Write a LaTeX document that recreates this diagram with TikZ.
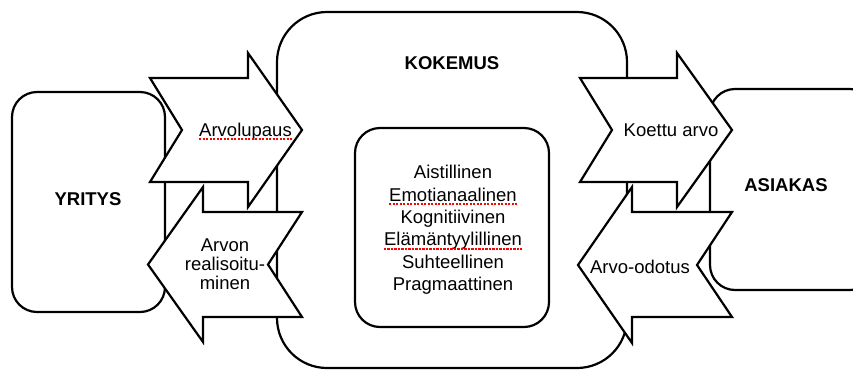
\documentclass[tikz,border=0pt]{standalone}
\usepackage{fontspec}
\setmainfont{Liberation Sans}
\begin{document}
\begin{tikzpicture}[x=1pt,y=-1pt,
  box/.style={draw, fill=white, line width=2.2pt, inner sep=0pt},
  txt/.style={inner sep=0pt, anchor=base, font=\fontsize{18.5}{22}\selectfont},
  ttl/.style={inner sep=0pt, anchor=base, font=\bfseries\fontsize{18.5}{22}\selectfont},
  flow/.style={draw, fill=white, line width=2.2pt, line join=miter, miter limit=10},
  spell/.style={red, line width=1.8pt, dash pattern=on 2.2pt off 1.3pt}]
\useasboundingbox (0,0) rectangle (853,370);
\clip (0,0) rectangle (853,370);

% outer and inner frames of the experience
\node[box, rounded corners=50pt, minimum width=350pt, minimum height=356pt] (kokemus) at (452,190) {};
\node[box, rounded corners=25pt, minimum width=194pt, minimum height=199pt] (ulot) at (452,227.5) {};
% company and customer
\node[box, rounded corners=25pt, minimum width=153pt, minimum height=220pt] (yritys) at (88.5,202) {};
\node[box, rounded corners=25pt, minimum width=165pt, minimum height=201pt] (asiakas) at (792.5,189.5) {};

\node[ttl] (tkokemus) at (452,69) {KOKEMUS};
\node[ttl] (tyritys) at (88,205) {YRITYS};
\node[ttl] (tasiakas) at (786,191.7) {ASIAKAS};

% dimensions of the experience
\node[txt] (l1) at (453,178.7) {Aistillinen};
\node[txt] (l2) at (453,201.1) {Emotianaalinen};
\node[txt] (l3) at (453,223.5) {Kognitiivinen};
\node[txt] (l4) at (453,245.9) {Elämäntyylillinen};
\node[txt] (l5) at (453,268.3) {Suhteellinen};
\node[txt] (l6) at (453,290.7) {Pragmaattinen};

% block arrows between the parties
\draw[flow] (150,78) -- (248,78) -- (248,53) -- (302,130) -- (248,207) -- (248,182) -- (150,182) -- (182,130) -- cycle;
\draw[flow] (302,212) -- (203,212) -- (203,187) -- (148,264.5) -- (203,342) -- (203,317) -- (302,317) -- (268,264.5) -- cycle;
\draw[flow] (580,78) -- (677,78) -- (677,53) -- (732,130) -- (677,207) -- (677,182) -- (580,182) -- (612,130) -- cycle;
\draw[flow] (732,212) -- (632,212) -- (632,187) -- (578,265) -- (632,343) -- (632,317) -- (732,317) -- (697,265) -- cycle;

\node[txt] (lupaus) at (245.5,136.5) {Arvolupaus};
\node[inner sep=0pt, align=center, font=\fontsize{18.5}{18.8}\selectfont] (real) at (225,264) {Arvon\\realisoitu-\\minen};
\node[txt] (koettu) at (671,136.5) {Koettu arvo};
\node[txt] (odotus) at (640,273.5) {Arvo-odotus};

% spell-check marks under words
\draw[spell] ([yshift=-2.8pt]lupaus.base west) -- ([yshift=-2.8pt]lupaus.base east);
\draw[spell] ([yshift=-2.8pt]l2.base west) -- ([yshift=-2.8pt]l2.base east);
\draw[spell] ([yshift=-2.8pt]l4.base west) -- ([yshift=-2.8pt]l4.base east);
\end{tikzpicture}
\end{document}
